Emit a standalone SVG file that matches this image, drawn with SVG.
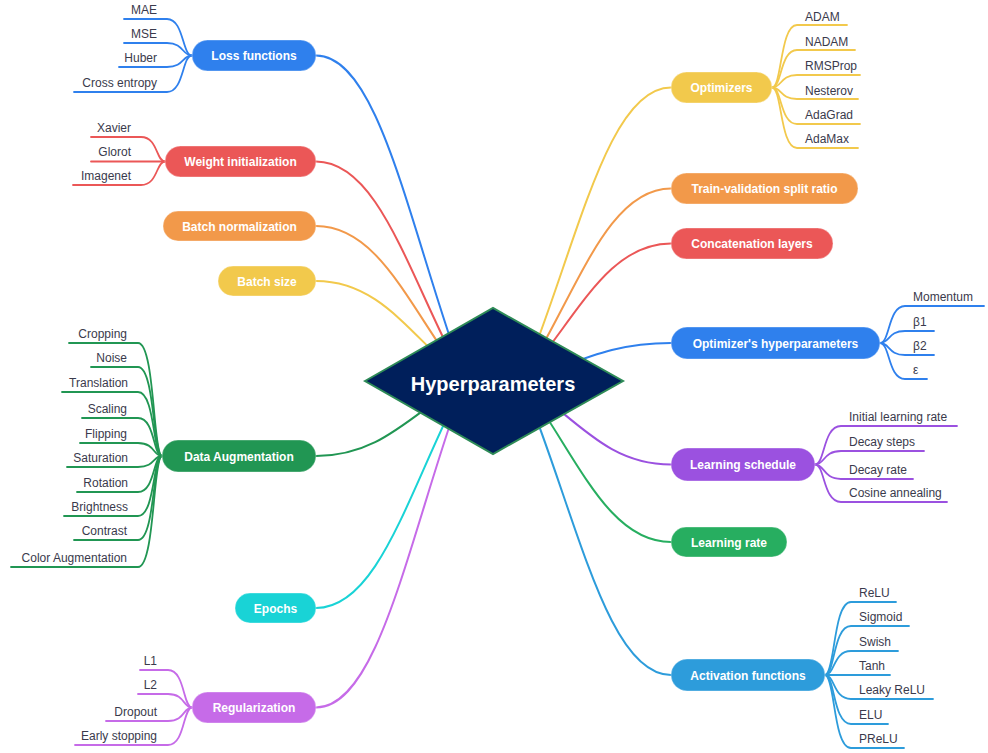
<svg xmlns="http://www.w3.org/2000/svg" width="988" height="753" viewBox="0 0 988 753">
<style>
.c{fill:none;stroke-width:2;stroke-linecap:round}
.l{fill:none;stroke-width:1.8;stroke-linecap:round}
.nt{font-family:"Liberation Sans",Arial,sans-serif;font-weight:bold;font-size:12px;fill:#fff;text-anchor:middle}
.lt{font-family:"Liberation Sans",Arial,sans-serif;font-size:12px;fill:#3a3a4c}
.le{text-anchor:end}
.nr{stroke:#fff;stroke-opacity:.35;stroke-width:1}
.blue{stroke:#2F80ED}.red{stroke:#EB5757}.orange{stroke:#F2994A}.yellow{stroke:#F2C94C}
.dgreen{stroke:#219653}.green{stroke:#27AE60}.cyan{stroke:#19D3D6}.purple{stroke:#C66BE8}
.violet{stroke:#9B51E0}.sky{stroke:#2D9CDB}
</style>
<g id="connectors">
<path class="c blue" d="M316,55.5 C380,55.5 410,231.3 465,381"/>
<path class="c red" d="M316,161.5 C380,161.5 410,280 465,381"/>
<path class="c orange" d="M316,226 C380,226 410,309.7 465,381"/>
<path class="c yellow" d="M316,281 C380,281 410,335 465,381"/>
<path class="c dgreen" d="M316,456 C380,456 410,415.5 465,381"/>
<path class="c cyan" d="M316,608 C380,608 410,485.4 465,381"/>
<path class="c purple" d="M316,707.5 C380,707.5 410,531.2 465,381"/>
<path class="c yellow" d="M671,87.5 C607,87.5 577,246 522,381"/>
<path class="c orange" d="M671,188.5 C607,188.5 577,292.5 522,381"/>
<path class="c red" d="M671,243.5 C607,243.5 577,317.8 522,381"/>
<path class="c blue" d="M671,343 C607,343 577,363.5 522,381"/>
<path class="c violet" d="M671,464.5 C607,464.5 577,419.4 522,381"/>
<path class="c green" d="M671,542 C607,542 577,455.1 522,381"/>
<path class="c sky" d="M671,675 C607,675 577,516.2 522,381"/>
<!-- leaf lines -->
<g class="blue">
<path class="l" d="M124,19 H167 C184,19 182,55.5 192,55.5"/>
<path class="l" d="M124,43 H167 C184,43 182,55.5 192,55.5"/>
<path class="l" d="M119,67 H167 C184,67 182,55.5 192,55.5"/>
<path class="l" d="M74,92 H167 C184,92 182,55.5 192,55.5"/>
</g>
<g class="red">
<path class="l" d="M91,137 H141 C158,137 156,161.5 165,161.5"/>
<path class="l" d="M91,161.5 H165"/>
<path class="l" d="M73,185 H141 C158,185 156,161.5 165,161.5"/>
</g>
<g class="dgreen">
<path class="l" d="M69,343 H138 C155,343 153,456 162,456"/>
<path class="l" d="M91,367 H138 C155,367 153,456 162,456"/>
<path class="l" d="M62,392 H138 C155,392 153,456 162,456"/>
<path class="l" d="M82,418 H138 C155,418 153,456 162,456"/>
<path class="l" d="M80,443 H138 C155,443 153,456 162,456"/>
<path class="l" d="M67,467 H138 C155,467 153,456 162,456"/>
<path class="l" d="M77,492 H138 C155,492 153,456 162,456"/>
<path class="l" d="M64,516 H138 C155,516 153,456 162,456"/>
<path class="l" d="M74,540 H138 C155,540 153,456 162,456"/>
<path class="l" d="M11,567 H138 C155,567 153,456 162,456"/>
</g>
<g class="purple">
<path class="l" d="M140,670 H168 C185,670 183,707.5 192,707.5"/>
<path class="l" d="M138,694 H168 C185,694 183,707.5 192,707.5"/>
<path class="l" d="M106,721 H168 C185,721 183,707.5 192,707.5"/>
<path class="l" d="M75,745 H168 C185,745 183,707.5 192,707.5"/>
</g>
<g class="yellow">
<path class="l" d="M847,25 H797 C780,25 782,87.5 772,87.5"/>
<path class="l" d="M855,50 H797 C780,50 782,87.5 772,87.5"/>
<path class="l" d="M860,75 H797 C780,75 782,87.5 772,87.5"/>
<path class="l" d="M858,99 H797 C780,99 782,87.5 772,87.5"/>
<path class="l" d="M860,124 H797 C780,124 782,87.5 772,87.5"/>
<path class="l" d="M858,148 H797 C780,148 782,87.5 772,87.5"/>
</g>
<g class="blue">
<path class="l" d="M984,306 H905 C888,306 890,343 880,343"/>
<path class="l" d="M934,331 H905 C888,331 890,343 880,343"/>
<path class="l" d="M934,355 H905 C888,355 890,343 880,343"/>
<path class="l" d="M927,379 H905 C888,379 890,343 880,343"/>
</g>
<g class="violet">
<path class="l" d="M957,426 H841 C823,426 825,464.5 815,464.5"/>
<path class="l" d="M924,451 H841 C823,451 825,464.5 815,464.5"/>
<path class="l" d="M913,479 H841 C823,479 825,464.5 815,464.5"/>
<path class="l" d="M947,502 H841 C823,502 825,464.5 815,464.5"/>
</g>
<g class="sky">
<path class="l" d="M896,602 H851 C833,602 835,675 825,675"/>
<path class="l" d="M909,626 H851 C833,626 835,675 825,675"/>
<path class="l" d="M898,651 H851 C833,651 835,675 825,675"/>
<path class="l" d="M890,675 H825"/>
<path class="l" d="M933,699 H851 C833,699 835,675 825,675"/>
<path class="l" d="M888,724 H851 C833,724 835,675 825,675"/>
<path class="l" d="M904,748 H851 C833,748 835,675 825,675"/>
</g>
</g>
<g id="hyperparameters">
<polygon points="365,381 493,308 623,381 493,454" fill="#001F5B" stroke="#2E8B57" stroke-width="2"/>
<text x="493" y="391" font-family="Liberation Sans, Arial, sans-serif" font-weight="bold" font-size="20" fill="#fff" text-anchor="middle">Hyperparameters</text>
</g>
<g id="loss-functions">
<rect class="nr" x="192" y="40" width="124" height="31" rx="15.5" fill="#2F80ED"/>
<text class="nt" x="254" y="60">Loss functions</text>
<text class="lt le" x="157" y="14">MAE</text>
<text class="lt le" x="157" y="38">MSE</text>
<text class="lt le" x="157" y="62">Huber</text>
<text class="lt le" x="157" y="87">Cross entropy</text>
</g>
<g id="weight-initialization">
<rect class="nr" x="165" y="146" width="151" height="31" rx="15.5" fill="#EB5757"/>
<text class="nt" x="240.5" y="166">Weight initialization</text>
<text class="lt le" x="131" y="132">Xavier</text>
<text class="lt le" x="131" y="156">Glorot</text>
<text class="lt le" x="131" y="180">Imagenet</text>
</g>
<g id="batch-normalization">
<rect class="nr" x="163" y="211" width="153" height="30" rx="15" fill="#F2994A"/>
<text class="nt" x="239.5" y="230.5">Batch normalization</text>
</g>
<g id="batch-size">
<rect class="nr" x="218" y="266" width="98" height="30" rx="15" fill="#F2C94C"/>
<text class="nt" x="267" y="285.5">Batch size</text>
</g>
<g id="data-augmentation">
<rect class="nr" x="162" y="440" width="154" height="32" rx="16" fill="#219653"/>
<text class="nt" x="239" y="460.5" font-size="12.5">Data Augmentation</text>
<text class="lt le" x="127" y="338">Cropping</text>
<text class="lt le" x="127" y="362">Noise</text>
<text class="lt le" x="128" y="387">Translation</text>
<text class="lt le" x="127" y="413">Scaling</text>
<text class="lt le" x="127" y="438">Flipping</text>
<text class="lt le" x="128" y="462">Saturation</text>
<text class="lt le" x="128" y="487">Rotation</text>
<text class="lt le" x="128" y="511">Brightness</text>
<text class="lt le" x="127" y="535">Contrast</text>
<text class="lt le" x="127" y="562">Color Augmentation</text>
</g>
<g id="epochs">
<rect class="nr" x="235" y="593" width="81" height="30" rx="15" fill="#19D3D6"/>
<text class="nt" x="275.5" y="612.5">Epochs</text>
</g>
<g id="regularization">
<rect class="nr" x="192" y="692" width="124" height="31" rx="15.5" fill="#C66BE8"/>
<text class="nt" x="254" y="712">Regularization</text>
<text class="lt le" x="157" y="665">L1</text>
<text class="lt le" x="157" y="689">L2</text>
<text class="lt le" x="157" y="716">Dropout</text>
<text class="lt le" x="157" y="740">Early stopping</text>
</g>
<g id="optimizers">
<rect class="nr" x="671" y="72" width="101" height="31" rx="15.5" fill="#F2C94C"/>
<text class="nt" x="721.5" y="92">Optimizers</text>
<text class="lt" x="805" y="21">ADAM</text>
<text class="lt" x="805" y="46">NADAM</text>
<text class="lt" x="805" y="70">RMSProp</text>
<text class="lt" x="805" y="95">Nesterov</text>
<text class="lt" x="805" y="119">AdaGrad</text>
<text class="lt" x="805" y="143">AdaMax</text>
</g>
<g id="train-validation-split-ratio">
<rect class="nr" x="671" y="173" width="187" height="31" rx="15.5" fill="#F2994A"/>
<text class="nt" x="764.5" y="193">Train-validation split ratio</text>
</g>
<g id="concatenation-layers">
<rect class="nr" x="671" y="228" width="162" height="31" rx="15.5" fill="#EB5757"/>
<text class="nt" x="752" y="248">Concatenation layers</text>
</g>
<g id="optimizers-hyperparameters">
<rect class="nr" x="671" y="327" width="209" height="32" rx="16" fill="#2F80ED"/>
<text class="nt" x="775.5" y="347.5" font-size="12.5">Optimizer's hyperparameters</text>
<text class="lt" x="913" y="301">Momentum</text>
<text class="lt" x="913" y="326">β1</text>
<text class="lt" x="913" y="350">β2</text>
<text class="lt" x="913" y="374">ε</text>
</g>
<g id="learning-schedule">
<rect class="nr" x="671" y="448" width="144" height="33" rx="16.5" fill="#9B51E0"/>
<text class="nt" x="743" y="469">Learning schedule</text>
<text class="lt" x="849" y="421">Initial learning rate</text>
<text class="lt" x="849" y="446">Decay steps</text>
<text class="lt" x="849" y="474">Decay rate</text>
<text class="lt" x="849" y="497">Cosine annealing</text>
</g>
<g id="learning-rate">
<rect class="nr" x="671" y="527" width="116" height="30" rx="15" fill="#27AE60"/>
<text class="nt" x="729" y="546.5">Learning rate</text>
</g>
<g id="activation-functions">
<rect class="nr" x="671" y="659" width="154" height="32" rx="16" fill="#2D9CDB"/>
<text class="nt" x="748" y="679.5">Activation functions</text>
<text class="lt" x="859" y="597">ReLU</text>
<text class="lt" x="859" y="621">Sigmoid</text>
<text class="lt" x="859" y="646">Swish</text>
<text class="lt" x="859" y="670">Tanh</text>
<text class="lt" x="859" y="694">Leaky ReLU</text>
<text class="lt" x="859" y="719">ELU</text>
<text class="lt" x="859" y="743">PReLU</text>
</g>
</svg>
